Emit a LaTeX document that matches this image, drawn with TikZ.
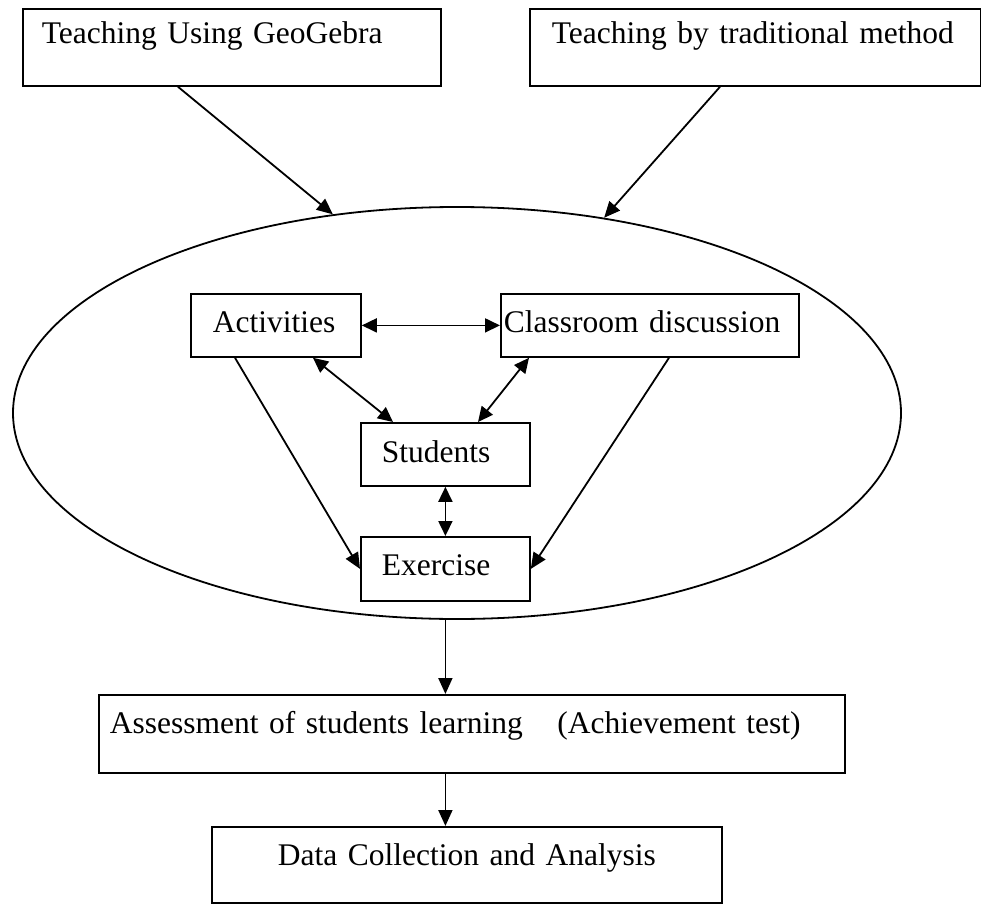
\documentclass[tikz,border=0pt]{standalone}
\usepackage{fontspec}
\setmainfont{Liberation Serif}
\usetikzlibrary{shapes.geometric, arrows.meta}

\begin{document}
\begin{tikzpicture}[x=1pt, y=-1pt, line width=1.8pt,
    font=\fontsize{31.5}{38}\selectfont,
    box/.style = {draw, rectangle, anchor=north west, inner ysep=0pt, align=left},
    oneway/.style = {-{Triangle[length=16pt,width=14pt]}},
    twoway/.style = {{Triangle[length=15pt,width=14pt]}-{Triangle[length=15pt,width=14pt]}}]
  \useasboundingbox (0,0) rectangle (981,904);
  % the two teaching methods
  \node[box, inner xsep=19pt, text width=380pt, text height=35pt, text depth=42pt] (geo) at (22,8) {Teaching Using GeoGebra};
  \node[box, inner xsep=22pt, text width=407pt, text height=35pt, text depth=42pt] (trad) at (529,8) {Teaching by traditional method};
  % classroom
  \node[draw, ellipse, minimum width=888pt, minimum height=412pt, inner sep=0pt] (class) at (457,413) {};
  \node[box, inner xsep=22pt, text width=126pt, text height=39pt, text depth=24pt] (act) at (190,293) {Activities};
  \node[box, inner xsep=3pt, text width=292pt, text height=39pt, text depth=24pt] (cls) at (500,293) {Classroom discussion};
  \node[box, inner xsep=21pt, text width=127pt, text height=40pt, text depth=23pt] (stu) at (360,422) {Students};
  \node[box, inner xsep=21pt, text width=127pt, text height=39pt, text depth=25pt] (exe) at (360,536) {Exercise};
  % results
  \node[box, inner xsep=11pt, text width=724pt, text height=39pt, text depth=39pt] (ass) at (98,694) {Assessment of students learning\hspace{1.1em}(Achievement test)};
  \node[box, inner xsep=0pt, align=center, text width=510pt, text height=39pt, text depth=37pt] (dat) at (211,826) {Data Collection and Analysis};

  \draw[oneway] ([xshift=156pt]geo.south west) -- (class.122);
  \draw[oneway] ([xshift=191pt]trad.south west) -- (class.53);
  \draw[twoway] (act.east) -- (cls.west);
  \draw[twoway] ([xshift=123pt]act.south west) -- ([xshift=33pt]stu.north west);
  \draw[twoway] ([xshift=29pt]cls.south west) -- ([xshift=118pt]stu.north west);
  \draw[twoway] (stu.south) -- (exe.north);
  \draw[oneway] ([xshift=45pt]act.south west) -- (exe.west);
  \draw[oneway] ([xshift=169pt]cls.south west) -- (exe.east);
  \draw[oneway] (stu.south |- class.south) -- (stu.south |- ass.north);
  \draw[oneway] (stu.south |- ass.south) -- (stu.south |- dat.north);
\end{tikzpicture}
\end{document}
